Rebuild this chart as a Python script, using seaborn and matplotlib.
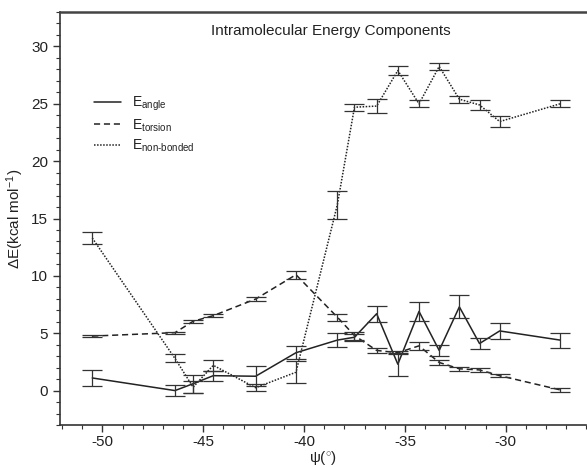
import numpy as np
import pandas as pd
import matplotlib
matplotlib.use("Agg")
import matplotlib.pyplot as plt
from matplotlib.ticker import MultipleLocator
import seaborn as sns

psi = [-50.5, -46.4, -45.5, -44.5, -42.4, -40.4, -38.35, -37.5, -36.4, -35.35,
       -34.3, -33.3, -32.3, -31.3, -30.3, -27.3]
e_angle = [1.1, 0.0, 0.6, 1.3, 1.25, 3.3, 4.4, 4.65, 6.7, 2.3, 6.9, 3.5, 7.3, 4.1, 5.2, 4.4]
e_angle_err = [0.7, 0.5, 0.8, 0.45, 0.85, 0.55, 0.63, 0.3, 0.7, 1.0, 0.8, 0.5, 1.0, 0.5, 0.7, 0.65]
e_torsion = [4.75, 5.05, 6.04, 6.53, 7.98, 10.1, 6.4, 4.8, 3.5, 3.3, 3.9, 2.45, 1.9, 1.8, 1.3, 0.06]
e_torsion_err = [0.1, 0.1, 0.15, 0.15, 0.2, 0.35, 0.3, 0.35, 0.25, 0.15, 0.35, 0.2, 0.15, 0.15, 0.12, 0.2]
e_nonb = [13.3, 2.8, 0.3, 2.2, 0.25, 1.6, 16.2, 24.7, 24.8, 27.9, 25.0, 28.25, 25.4, 24.9, 23.45, 25.0]
e_nonb_err = [0.55, 0.35, 0.5, 0.5, 0.3, 0.95, 1.2, 0.3, 0.6, 0.4, 0.3, 0.3, 0.3, 0.4, 0.45, 0.3]

labels = ["E$_{\\text{angle}}$", "E$_{\\text{torsion}}$", "E$_{\\text{non-bonded}}$"]

df = pd.DataFrame({
    "psi": psi * 3,
    "E": e_angle + e_torsion + e_nonb,
    "err": e_angle_err + e_torsion_err + e_nonb_err,
    "comp": [labels[0]] * len(psi) + [labels[1]] * len(psi) + [labels[2]] * len(psi),
})

sns.set_style("ticks")
plt.rcParams['font.family'] = ['Liberation Sans', 'DejaVu Sans']
plt.rcParams['mathtext.fontset'] = 'custom'
plt.rcParams['mathtext.rm'] = 'Liberation Sans'
plt.rcParams['mathtext.it'] = 'Liberation Sans'
plt.rcParams['axes.unicode_minus'] = False

fig = plt.figure(figsize=(5.87, 4.67), dpi=100)
ax = fig.add_axes([60 / 587, 1 - 425 / 467, 1 - 60 / 587 - 0.001, (425 - 12) / 467])

dashes = {labels[0]: "", labels[1]: (4, 2.5), labels[2]: (1, 1)}
sns.lineplot(data=df, x="psi", y="E", style="comp", dashes=dashes, color="#222222",
             linewidth=1.1, ax=ax, sort=False, estimator=None, legend=True)

for lab in labels:
    sub = df[df["comp"] == lab]
    ax.errorbar(sub["psi"], sub["E"], yerr=sub["err"], fmt="none", ecolor="#333333",
                elinewidth=0.9, capsize=7, capthick=0.9)

ax.set_xlim(-52.1, -26.0)
ax.set_ylim(-3, 33)
ax.xaxis.set_major_locator(MultipleLocator(5))
ax.xaxis.set_minor_locator(MultipleLocator(1))
ax.yaxis.set_major_locator(MultipleLocator(5))
ax.yaxis.set_minor_locator(MultipleLocator(1))
ax.tick_params(axis="both", which="major", direction="out", length=5, width=1,
               labelsize=11, color="#333333", labelcolor="#222222")
ax.tick_params(axis="x", which="major", pad=2)
ax.tick_params(axis="both", which="minor", direction="out", length=3, width=0.8, color="#333333")

for s in ["left", "bottom"]:
    ax.spines[s].set_linewidth(1.2)
    ax.spines[s].set_color("#333333")
ax.spines["top"].set_linewidth(1.8)
ax.spines["top"].set_color("#444444")
ax.spines["right"].set_visible(False)

ax.set_xlabel("ψ($^{\\circ}$)", fontsize=11, labelpad=0, color="#222222")
ax.set_ylabel("ΔE(kcal mol$^{-1}$)", fontsize=11, labelpad=4, color="#222222")

ax.text(0.515, 0.955, "Intramolecular Energy Components", transform=ax.transAxes,
        ha="center", va="center", fontsize=11, color="#222222")

leg = ax.legend(loc="upper left", bbox_to_anchor=(0.04, 0.83), frameon=False,
                handlelength=2.0, handletextpad=0.8, labelspacing=0.3, fontsize=10,
                title=None)
for t in leg.get_texts():
    t.set_color("#222222")

fig.savefig("out.png", dpi=100)
